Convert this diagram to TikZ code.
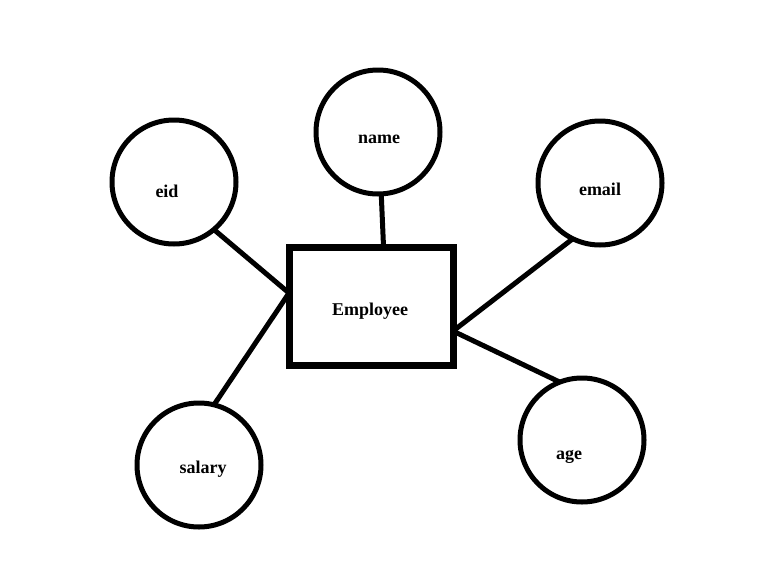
\documentclass[tikz,border=0pt]{standalone}
\usepackage{fontspec}
\setmainfont{Liberation Serif}

\begin{document}
\begin{tikzpicture}[x=0.75pt,y=-0.75pt]
\tikzstyle{every node}=[font=\fontsize{13.5}{16}\selectfont\bfseries]
\tikzstyle{attr}=[draw, circle, line width=3.75pt, minimum size=93pt, inner sep=0pt, outer sep=0pt]
\tikzstyle{entity}=[draw, rectangle, line width=5.25pt, minimum width=123pt, minimum height=88.5pt, inner sep=0pt, outer sep=0pt]
\tikzstyle{lbl}=[anchor=base, inner sep=0pt]
\tikzstyle{link}=[line width=3.75pt]
\useasboundingbox (0,0) rectangle (768,582);

\node[entity] (Employee) at (371,306) {};
\node[attr] (name) at (378,132) {};
\node[attr] (eid) at (174,182) {};
\node[attr] (email) at (600,183) {};
\node[attr] (salary) at (199,465) {};
\node[attr] (age) at (582,440) {};

\node[lbl] (Employee-t) at (370,315) {Employee};
\node[lbl] (name-t) at (379,143) {name};
\node[lbl] (eid-t) at (167,197) {eid};
\node[lbl] (email-t) at (600,195) {email};
\node[lbl] (salary-t) at (203,473) {salary};
\node[lbl] (age-t) at (569,459) {age};

\draw[link] (name.-87) -- (Employee.78.5);
\draw[link] (eid.-50) -- (Employee.171);
\draw[link] (salary.76) -- (Employee.171);
\draw[link] (email.-116) -- (Employee.-17.6);
\draw[link] (age.111) -- (Employee.-17.6);
\end{tikzpicture}
\end{document}
